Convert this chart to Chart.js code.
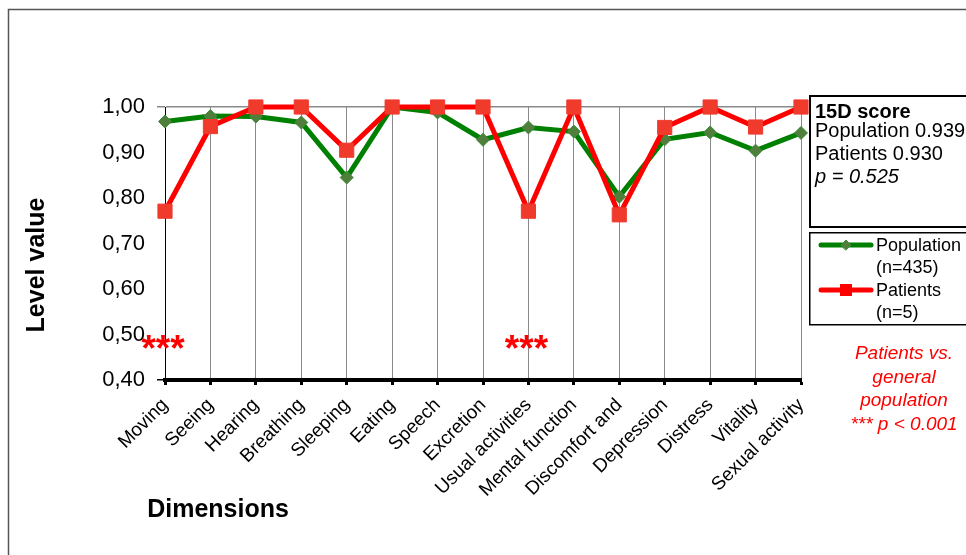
<!DOCTYPE html>
<html>
<head>
<meta charset="utf-8">
<script src="https://cdn.jsdelivr.net/npm/chart.js@4/dist/chart.umd.min.js"></script>
<style>
  html, body { margin: 0; padding: 0; background: #fff; }
  #wrap { width: 966px; height: 555px; position: relative; }
</style>
</head>
<body>
<div id="wrap"><canvas id="chart" width="966" height="555"></canvas></div>
<script>
// 15D profile: mean level value per dimension
const dimensions = [
  'Moving', 'Seeing', 'Hearing', 'Breathing', 'Sleeping', 'Eating', 'Speech',
  'Excretion', 'Usual activities', 'Mental function', 'Discomfort and',
  'Depression', 'Distress', 'Vitality', 'Sexual activity'
];
const populationScores = [0.968, 0.980, 0.979, 0.966, 0.845, 1.000, 0.988, 0.928, 0.955, 0.946, 0.803, 0.929, 0.944, 0.904, 0.943];
const patientScores    = [0.771, 0.957, 1.000, 1.000, 0.905, 1.000, 1.000, 1.000, 0.771, 1.000, 0.763, 0.955, 1.000, 0.956, 1.000];

const yMin = 0.4;
const yMax = 1.0;
const yStep = 0.1;

// dimensions with p < 0.001
const significantDims = ['Moving', 'Usual activities'];

const scoreTitle = '15D score';
const scoreLines = ['Population 0.939', 'Patients 0.930'];
const pValueText = 'p = 0.525';
const legendLabels = [['Population', '(n=435)'], ['Patients', '(n=5)']];
const noteLines = ['Patients vs.', 'general', 'population', '*** p < 0.001'];

const FONT = '"Liberation Sans", Arial, Helvetica, sans-serif';
const GREEN = '#008000';
const GREEN_FILL = '#4f7f3a';
const RED = '#ff0000';
const RED_FILL = '#ef3a2c';

const AREA = { left: 165, right: 801, top: 107, bottom: 380 };

function drawDiamond(ctx, x, y, r) {
  ctx.beginPath();
  ctx.moveTo(x - r, y); ctx.lineTo(x, y - r); ctx.lineTo(x + r, y); ctx.lineTo(x, y + r);
  ctx.closePath();
  ctx.fillStyle = GREEN_FILL; ctx.fill();
  ctx.lineWidth = 1; ctx.strokeStyle = '#3d8a3d'; ctx.stroke();
}

const frame = {
  id: 'frame',
  beforeDraw(chart) {
    const ctx = chart.ctx;
    ctx.save();
    ctx.fillStyle = '#fff';
    ctx.fillRect(0, 0, chart.width, chart.height);
    ctx.strokeStyle = '#555';
    ctx.lineWidth = 1.5;
    ctx.beginPath();
    ctx.moveTo(8.5, chart.height + 2);
    ctx.lineTo(8.5, 9.5);
    ctx.lineTo(chart.width + 2, 9.5);
    ctx.stroke();
    ctx.restore();
  },
  afterDraw(chart) {
    const ctx = chart.ctx;
    const xs = chart.scales.x, ys = chart.scales.y;
    ctx.save();

    // axis titles
    ctx.fillStyle = '#000';
    ctx.font = 'bold 25px ' + FONT;
    ctx.textAlign = 'center';
    ctx.textBaseline = 'middle';
    ctx.fillText('Dimensions', 218, 510);
    ctx.save();
    ctx.translate(37, 265);
    ctx.rotate(-Math.PI / 2);
    ctx.fillText('Level value', 0, 0);
    ctx.restore();

    // significance markers
    ctx.fillStyle = RED;
    ctx.font = 'bold 37px ' + FONT;
    ctx.textAlign = 'center';
    ctx.textBaseline = 'alphabetic';
    significantDims.forEach(d => {
      const i = dimensions.indexOf(d);
      const x = xs.getPixelForValue(i) - 2;
      const y = ys.getPixelForValue(0.442);
      ctx.fillText('***', x, y);
    });

    // 15D score box
    ctx.fillStyle = '#fff';
    ctx.fillRect(809, 95, 170, 132);
    ctx.strokeStyle = '#000';
    ctx.lineWidth = 2;
    ctx.strokeRect(810, 96, 170, 131);
    ctx.fillStyle = '#000';
    ctx.textAlign = 'left';
    ctx.textBaseline = 'middle';
    ctx.font = 'bold 20px ' + FONT;
    ctx.fillText(scoreTitle, 815, 112);
    ctx.font = '20px ' + FONT;
    ctx.fillText(scoreLines[0], 815, 131);
    ctx.fillText(scoreLines[1], 815, 154);
    ctx.font = 'italic 20px ' + FONT;
    ctx.fillText(pValueText, 815, 177);

    // legend box
    ctx.fillStyle = '#fff';
    ctx.fillRect(809, 232, 170, 93);
    ctx.lineWidth = 1.5;
    ctx.strokeStyle = '#000';
    ctx.strokeRect(809.75, 232.75, 170, 92);
    const rows = [
      { y: 245, color: GREEN, marker: 'diamond' },
      { y: 290, color: RED, marker: 'square' }
    ];
    rows.forEach((row, k) => {
      ctx.strokeStyle = row.color;
      ctx.lineWidth = 5;
      ctx.lineCap = 'round';
      ctx.beginPath();
      ctx.moveTo(821, row.y); ctx.lineTo(871, row.y);
      ctx.stroke();
      if (row.marker === 'diamond') {
        drawDiamond(ctx, 846, row.y, 5);
      } else {
        ctx.fillStyle = RED;
        ctx.fillRect(840, row.y - 6, 12, 12);
      }
      ctx.fillStyle = '#000';
      ctx.font = '18px ' + FONT;
      ctx.textAlign = 'left';
      ctx.textBaseline = 'middle';
      ctx.fillText(legendLabels[k][0], 876, row.y + 1);
      ctx.fillText(legendLabels[k][1], 876, row.y + 23);
    });

    // note
    ctx.fillStyle = RED;
    ctx.font = 'italic 19px ' + FONT;
    ctx.textAlign = 'center';
    ctx.textBaseline = 'middle';
    noteLines.forEach((t, i) => ctx.fillText(t, 904, 354 + i * 23.5));

    ctx.restore();
  }
};

const isVal = (v, t) => Math.abs(v - t) < 1e-6;

new Chart(document.getElementById('chart'), {
  type: 'line',
  data: {
    labels: dimensions,
    datasets: [
      {
        label: 'Population (n=435)',
        data: populationScores,
        borderColor: GREEN,
        borderWidth: 5,
        pointStyle: 'rectRot',
        pointRadius: 6.5,
        pointBackgroundColor: GREEN_FILL,
        pointBorderColor: '#3d8a3d',
        pointBorderWidth: 1,
        tension: 0,
        clip: false,
        order: 2
      },
      {
        label: 'Patients (n=5)',
        data: patientScores,
        borderColor: RED,
        borderWidth: 5,
        pointStyle: 'rect',
        pointRadius: 10,
        pointBackgroundColor: RED_FILL,
        pointBorderColor: RED_FILL,
        pointBorderWidth: 1,
        tension: 0,
        clip: false,
        order: 1
      }
    ]
  },
  options: {
    responsive: false,
    animation: false,
    events: [],
    layout: { padding: { left: 0, top: AREA.top, right: 966 - AREA.right, bottom: 0 } },
    plugins: { legend: { display: false }, tooltip: { enabled: false } },
    scales: {
      x: {
        type: 'category',
        offset: false,
        grid: {
          color: '#8a8a8a',
          lineWidth: 1,
          drawTicks: true,
          tickLength: 5,
          tickColor: '#000',
          tickWidth: 3
        },
        border: { color: '#000', width: 4 },
        ticks: {
          color: '#000',
          font: { family: FONT, size: 19 },
          maxRotation: 45,
          minRotation: 45,
          autoSkip: false,
          padding: 9
        },
        afterFit(scale) { scale.height = 555 - AREA.bottom; }
      },
      y: {
        min: yMin,
        max: yMax,
        grid: {
          color: ctx => (ctx.tick && isVal(ctx.tick.value, yMax)) ? '#8a8a8a' : 'rgba(0,0,0,0)',
          lineWidth: 1.5,
          drawTicks: true,
          tickLength: 8,
          tickColor: ctx => (ctx.tick && isVal(ctx.tick.value, yMax)) ? '#8a8a8a'
                           : (ctx.tick && isVal(ctx.tick.value, yMin)) ? '#000' : 'rgba(0,0,0,0)'
        },
        border: { color: '#000', width: 1 },
        ticks: {
          stepSize: yStep,
          color: '#000',
          font: { family: FONT, size: 22 },
          padding: 12,
          callback: v => Number(v).toFixed(2).replace('.', ',')
        },
        afterFit(scale) { scale.width = AREA.left; }
      }
    }
  },
  plugins: [frame]
});
</script>
</body>
</html>
